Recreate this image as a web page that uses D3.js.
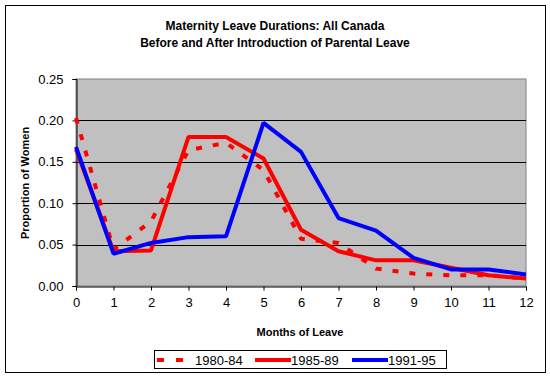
<!DOCTYPE html>
<meta charset="utf-8">
<html>
<head>
<script src="https://cdn.jsdelivr.net/npm/d3@7"></script>
<style>
  body { margin: 0; background: #fff; }
  text { font-family: Arial, "Liberation Sans", sans-serif; }
</style>
</head>
<body>
<div id="chart"></div>
<script>
// data
const months = [0, 1, 2, 3, 4, 5, 6, 7, 8, 9, 10, 11, 12];
const s8084 = [0.203, 0.044, 0.078, 0.164, 0.173, 0.140, 0.057, 0.052, 0.021, 0.015, 0.013, 0.013, 0.009];
const s8589 = [0.165, 0.042, 0.043, 0.180, 0.180, 0.154, 0.068, 0.042, 0.031, 0.031, 0.022, 0.013, 0.009];
const s9195 = [0.168, 0.039, 0.052, 0.059, 0.060, 0.197, 0.162, 0.082, 0.067, 0.034, 0.020, 0.020, 0.014];
const yTicks = [0, 0.05, 0.10, 0.15, 0.20, 0.25];
const seriesNames = ["1980-84", "1985-89", "1991-95"];

const series = [
  {name: seriesNames[0], values: s8084, color: "#ff0000", dash: "6,11"},
  {name: seriesNames[1], values: s8589, color: "#ff0000", dash: null},
  {name: seriesNames[2], values: s9195, color: "#0000ff", dash: null}
];

const W = 550, H = 378;
const plot = {left: 76, right: 526, top: 79, bottom: 286};

const svg = d3.select("#chart").append("svg")
  .attr("width", W).attr("height", H);

// outer frame
svg.append("rect")
  .attr("x", 5.5).attr("y", 5.5).attr("width", 540).attr("height", 367)
  .attr("fill", "#fff").attr("stroke", "#000").attr("stroke-width", 1);

// title
svg.append("text").attr("x", 275).attr("y", 30)
  .attr("text-anchor", "middle").attr("font-size", 12).attr("font-weight", "bold")
  .text("Maternity Leave Durations: All Canada");
svg.append("text").attr("x", 275).attr("y", 47)
  .attr("text-anchor", "middle").attr("font-size", 12).attr("font-weight", "bold")
  .text("Before and After Introduction of Parental Leave");

const x = d3.scaleLinear().domain([0, 12]).range([plot.left, plot.right]);
const y = d3.scaleLinear().domain([0, 0.25]).range([plot.bottom, plot.top]);

// plot background
svg.append("rect")
  .attr("x", plot.left).attr("y", plot.top)
  .attr("width", plot.right - plot.left).attr("height", plot.bottom - plot.top)
  .attr("fill", "#c0c0c0").attr("stroke", "#808080");

// gridlines
svg.append("g").selectAll("line")
  .data(yTicks.filter(d => d > 0 && d < 0.25))
  .join("line")
    .attr("x1", plot.left).attr("x2", plot.right)
    .attr("y1", d => Math.round(y(d)) + 0.5).attr("y2", d => Math.round(y(d)) + 0.5)
    .attr("stroke", "#000");

// y axis
const yAxis = svg.append("g")
  .attr("transform", `translate(${plot.left + 0.5},0)`)
  .call(d3.axisLeft(y).tickValues(yTicks).tickFormat(d3.format(".2f")).tickSize(4).tickPadding(9));
yAxis.select(".domain").attr("stroke", "#000");
yAxis.selectAll("text").attr("font-size", 13).attr("font-family", "Arial, 'Liberation Sans', sans-serif").attr("fill", "#000");

// x axis
const xAxis = svg.append("g")
  .attr("transform", `translate(0,${plot.bottom + 0.5})`)
  .call(d3.axisBottom(x).tickValues(months).tickFormat(d3.format("d")).tickSize(4).tickPadding(7));
xAxis.select(".domain").attr("stroke", "#000");
xAxis.selectAll("text").attr("font-size", 13).attr("font-family", "Arial, 'Liberation Sans', sans-serif").attr("fill", "#000");

// axis titles
svg.append("text").attr("x", 300).attr("y", 336)
  .attr("text-anchor", "middle").attr("font-size", 11).attr("font-weight", "bold")
  .text("Months of Leave");
svg.append("text")
  .attr("transform", "translate(29,183) rotate(-90)")
  .attr("text-anchor", "middle").attr("font-size", 11).attr("font-weight", "bold")
  .text("Proportion of Women");

// lines
const line = d3.line().x((d, i) => x(months[i])).y(d => y(d));
svg.append("g").selectAll("path")
  .data(series)
  .join("path")
    .attr("d", d => line(d.values))
    .attr("fill", "none")
    .attr("stroke", d => d.color)
    .attr("stroke-width", 4)
    .attr("stroke-linejoin", "bevel")
    .attr("stroke-dasharray", d => d.dash);

// legend
const legend = svg.append("g");
legend.append("rect")
  .attr("x", 154.5).attr("y", 350.5).attr("width", 292).attr("height", 18)
  .attr("fill", "#fff").attr("stroke", "#000");
const legendX = [157, 255, 352];
const item = legend.selectAll("g.item").data(series).join("g")
  .attr("class", "item")
  .attr("transform", (d, i) => `translate(${legendX[i]},360)`);
item.append("line")
  .attr("x1", 0).attr("x2", 36).attr("y1", 0).attr("y2", 0)
  .attr("stroke", d => d.color).attr("stroke-width", 4)
  .attr("stroke-dasharray", d => d.dash ? "7,12" : null);
item.append("text")
  .attr("x", (d, i) => i === 0 ? 38 : 36).attr("y", 5)
  .attr("font-size", 13)
  .text(d => d.name);
</script>
</body>
</html>
